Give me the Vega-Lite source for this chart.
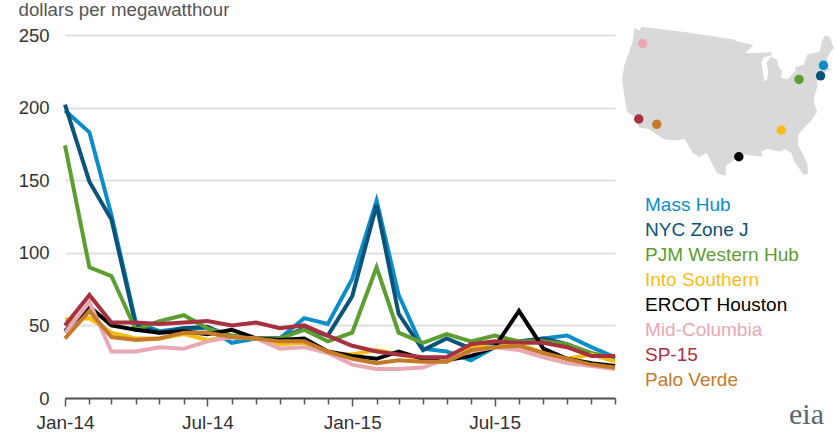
{"$schema":"https://vega.github.io/schema/vega-lite/v6.json","width":550,"height":363,"autosize":"none","padding":{"left":65,"top":35,"right":222,"bottom":41},"background":"white",
"config":{"view":{"stroke":null},"font":"Liberation Sans"},
"title":{"text":"eia","orient":"bottom","anchor":"end","frame":"group","font":"Liberation Serif","fontSize":30,"fontWeight":"normal","color":"#5a6670","dx":209,"dy":-32,"offset":0},
"projection":{"type":"albers","scale":300,"translate":[664,66]},
"layer":[
{"data":{"values":{"type":"Feature","properties":{},"geometry":{"type":"Polygon","coordinates":[[[-124.7,49.75],[-123,49.64],[-122.8,50.43],[-95.2,50.43],[-94.6,50.09],[-92,49.64],[-89.6,49.3],[-92,47.83],[-90,47.72],[-87.5,47.6],[-84.8,47.6],[-84.7,46.93],[-87,46.7],[-87.8,45.8],[-87.6,43.65],[-87.5,42.18],[-86.8,42.29],[-86.2,43.65],[-86.4,45.57],[-85,46.7],[-83.4,45.91],[-83.4,44.67],[-82.5,43.65],[-83.1,42.52],[-81.5,41.96],[-79,43.31],[-79,43.99],[-76.5,44.2],[-75,45.91],[-71.5,45.91],[-70.3,47.6],[-69,48.62],[-67.8,48.17],[-67.5,45.91],[-70,44.44],[-70.8,43.09],[-70,42.18],[-71.5,41.84],[-74,41.05],[-74.2,39.7],[-75.5,38],[-76,36.87],[-75.7,34.95],[-77.5,33.48],[-79,32.69],[-81,31.22],[-81.4,29.53],[-80,25.57],[-80.2,23.65],[-81.2,23.54],[-82.7,26.47],[-83,28.06],[-84.3,28.96],[-85.5,28.62],[-88,29.3],[-89.5,28.96],[-89.3,27.94],[-91,28.17],[-93.8,28.62],[-95,27.83],[-97.2,26.36],[-97.2,24.44],[-99,24.89],[-101.4,28.73],[-103,27.83],[-104.5,28.62],[-106.5,31],[-108.2,30.55],[-111,30.43],[-114.8,31.79],[-117.1,31.79],[-118.5,33.48],[-120.6,34.16],[-122,36.64],[-123.8,39.7],[-124.3,42.52],[-124,47.27],[-124.7,49.75]]]}},"format":{"type":"json"}},
"mark":{"type":"geoshape","fill":"#d9d9d9","stroke":null,"clip":false},"encoding":{}},
{"data":{"values":[
{"series":"Mass Hub","lon":-71.5,"lat":43.2},{"series":"NYC Zone J","lon":-72.9,"lat":41.4},{"series":"PJM Western Hub","lon":-78.5,"lat":41.6},{"series":"Into Southern","lon":-84.6,"lat":32.6},{"series":"ERCOT Houston","lon":-94.4,"lat":28.1},{"series":"Mid-Columbia","lon":-121.2,"lat":47.4},{"series":"SP-15","lon":-117.5,"lat":33.3},{"series":"Palo Verde","lon":-113.2,"lat":33}]},
"mark":{"type":"circle","size":90,"opacity":1,"clip":false},
"encoding":{"longitude":{"field":"lon","type":"quantitative"},"latitude":{"field":"lat","type":"quantitative"},"color":{"field":"series","type":"nominal"}}},
{"data":{"values":[
{"date":"2014-01-01","series":"Mass Hub","value":198},{"date":"2014-02-01","series":"Mass Hub","value":183},{"date":"2014-03-01","series":"Mass Hub","value":126},{"date":"2014-04-01","series":"Mass Hub","value":52},{"date":"2014-05-01","series":"Mass Hub","value":46},{"date":"2014-06-01","series":"Mass Hub","value":48},{"date":"2014-07-01","series":"Mass Hub","value":48},{"date":"2014-08-01","series":"Mass Hub","value":38},{"date":"2014-09-01","series":"Mass Hub","value":41},{"date":"2014-10-01","series":"Mass Hub","value":41},{"date":"2014-11-01","series":"Mass Hub","value":55},{"date":"2014-12-01","series":"Mass Hub","value":51},{"date":"2015-01-01","series":"Mass Hub","value":82},{"date":"2015-02-01","series":"Mass Hub","value":136},{"date":"2015-03-01","series":"Mass Hub","value":71},{"date":"2015-04-01","series":"Mass Hub","value":34},{"date":"2015-05-01","series":"Mass Hub","value":32},{"date":"2015-06-01","series":"Mass Hub","value":26},{"date":"2015-07-01","series":"Mass Hub","value":35},{"date":"2015-08-01","series":"Mass Hub","value":39},{"date":"2015-09-01","series":"Mass Hub","value":41},{"date":"2015-10-01","series":"Mass Hub","value":43},{"date":"2015-11-01","series":"Mass Hub","value":35},{"date":"2015-12-01","series":"Mass Hub","value":28},
{"date":"2014-01-01","series":"NYC Zone J","value":202},{"date":"2014-02-01","series":"NYC Zone J","value":149},{"date":"2014-03-01","series":"NYC Zone J","value":123},{"date":"2014-04-01","series":"NYC Zone J","value":50},{"date":"2014-05-01","series":"NYC Zone J","value":45},{"date":"2014-06-01","series":"NYC Zone J","value":48},{"date":"2014-07-01","series":"NYC Zone J","value":49},{"date":"2014-08-01","series":"NYC Zone J","value":42},{"date":"2014-09-01","series":"NYC Zone J","value":41},{"date":"2014-10-01","series":"NYC Zone J","value":41},{"date":"2014-11-01","series":"NYC Zone J","value":48},{"date":"2014-12-01","series":"NYC Zone J","value":43},{"date":"2015-01-01","series":"NYC Zone J","value":70},{"date":"2015-02-01","series":"NYC Zone J","value":133},{"date":"2015-03-01","series":"NYC Zone J","value":58},{"date":"2015-04-01","series":"NYC Zone J","value":33},{"date":"2015-05-01","series":"NYC Zone J","value":41},{"date":"2015-06-01","series":"NYC Zone J","value":34},{"date":"2015-07-01","series":"NYC Zone J","value":38},{"date":"2015-08-01","series":"NYC Zone J","value":39},{"date":"2015-09-01","series":"NYC Zone J","value":41},{"date":"2015-10-01","series":"NYC Zone J","value":37},{"date":"2015-11-01","series":"NYC Zone J","value":30},{"date":"2015-12-01","series":"NYC Zone J","value":27},
{"date":"2014-01-01","series":"PJM Western Hub","value":174},{"date":"2014-02-01","series":"PJM Western Hub","value":90},{"date":"2014-03-01","series":"PJM Western Hub","value":84},{"date":"2014-04-01","series":"PJM Western Hub","value":47},{"date":"2014-05-01","series":"PJM Western Hub","value":53},{"date":"2014-06-01","series":"PJM Western Hub","value":57},{"date":"2014-07-01","series":"PJM Western Hub","value":48},{"date":"2014-08-01","series":"PJM Western Hub","value":43},{"date":"2014-09-01","series":"PJM Western Hub","value":41},{"date":"2014-10-01","series":"PJM Western Hub","value":41},{"date":"2014-11-01","series":"PJM Western Hub","value":47},{"date":"2014-12-01","series":"PJM Western Hub","value":39},{"date":"2015-01-01","series":"PJM Western Hub","value":45},{"date":"2015-02-01","series":"PJM Western Hub","value":90},{"date":"2015-03-01","series":"PJM Western Hub","value":45},{"date":"2015-04-01","series":"PJM Western Hub","value":38},{"date":"2015-05-01","series":"PJM Western Hub","value":44},{"date":"2015-06-01","series":"PJM Western Hub","value":39},{"date":"2015-07-01","series":"PJM Western Hub","value":43},{"date":"2015-08-01","series":"PJM Western Hub","value":39},{"date":"2015-09-01","series":"PJM Western Hub","value":39},{"date":"2015-10-01","series":"PJM Western Hub","value":37},{"date":"2015-11-01","series":"PJM Western Hub","value":31},{"date":"2015-12-01","series":"PJM Western Hub","value":27},
{"date":"2014-01-01","series":"Into Southern","value":54},{"date":"2014-02-01","series":"Into Southern","value":55},{"date":"2014-03-01","series":"Into Southern","value":45},{"date":"2014-04-01","series":"Into Southern","value":41},{"date":"2014-05-01","series":"Into Southern","value":41},{"date":"2014-06-01","series":"Into Southern","value":44},{"date":"2014-07-01","series":"Into Southern","value":40},{"date":"2014-08-01","series":"Into Southern","value":42},{"date":"2014-09-01","series":"Into Southern","value":41},{"date":"2014-10-01","series":"Into Southern","value":37},{"date":"2014-11-01","series":"Into Southern","value":38},{"date":"2014-12-01","series":"Into Southern","value":31},{"date":"2015-01-01","series":"Into Southern","value":30},{"date":"2015-02-01","series":"Into Southern","value":33},{"date":"2015-03-01","series":"Into Southern","value":30},{"date":"2015-04-01","series":"Into Southern","value":27},{"date":"2015-05-01","series":"Into Southern","value":25},{"date":"2015-06-01","series":"Into Southern","value":36},{"date":"2015-07-01","series":"Into Southern","value":35},{"date":"2015-08-01","series":"Into Southern","value":37},{"date":"2015-09-01","series":"Into Southern","value":31},{"date":"2015-10-01","series":"Into Southern","value":27},{"date":"2015-11-01","series":"Into Southern","value":30},{"date":"2015-12-01","series":"Into Southern","value":25},
{"date":"2014-01-01","series":"ERCOT Houston","value":46},{"date":"2014-02-01","series":"ERCOT Houston","value":63},{"date":"2014-03-01","series":"ERCOT Houston","value":50},{"date":"2014-04-01","series":"ERCOT Houston","value":47},{"date":"2014-05-01","series":"ERCOT Houston","value":45},{"date":"2014-06-01","series":"ERCOT Houston","value":46},{"date":"2014-07-01","series":"ERCOT Houston","value":44},{"date":"2014-08-01","series":"ERCOT Houston","value":47},{"date":"2014-09-01","series":"ERCOT Houston","value":41},{"date":"2014-10-01","series":"ERCOT Houston","value":40},{"date":"2014-11-01","series":"ERCOT Houston","value":41},{"date":"2014-12-01","series":"ERCOT Houston","value":32},{"date":"2015-01-01","series":"ERCOT Houston","value":29},{"date":"2015-02-01","series":"ERCOT Houston","value":27},{"date":"2015-03-01","series":"ERCOT Houston","value":32},{"date":"2015-04-01","series":"ERCOT Houston","value":27},{"date":"2015-05-01","series":"ERCOT Houston","value":26},{"date":"2015-06-01","series":"ERCOT Houston","value":29},{"date":"2015-07-01","series":"ERCOT Houston","value":35},{"date":"2015-08-01","series":"ERCOT Houston","value":60},{"date":"2015-09-01","series":"ERCOT Houston","value":34},{"date":"2015-10-01","series":"ERCOT Houston","value":27},{"date":"2015-11-01","series":"ERCOT Houston","value":24},{"date":"2015-12-01","series":"ERCOT Houston","value":22},
{"date":"2014-01-01","series":"Mid-Columbia","value":45},{"date":"2014-02-01","series":"Mid-Columbia","value":66},{"date":"2014-03-01","series":"Mid-Columbia","value":32},{"date":"2014-04-01","series":"Mid-Columbia","value":32},{"date":"2014-05-01","series":"Mid-Columbia","value":35},{"date":"2014-06-01","series":"Mid-Columbia","value":34},{"date":"2014-07-01","series":"Mid-Columbia","value":39},{"date":"2014-08-01","series":"Mid-Columbia","value":42},{"date":"2014-09-01","series":"Mid-Columbia","value":41},{"date":"2014-10-01","series":"Mid-Columbia","value":34},{"date":"2014-11-01","series":"Mid-Columbia","value":35},{"date":"2014-12-01","series":"Mid-Columbia","value":31},{"date":"2015-01-01","series":"Mid-Columbia","value":23},{"date":"2015-02-01","series":"Mid-Columbia","value":20},{"date":"2015-03-01","series":"Mid-Columbia","value":20},{"date":"2015-04-01","series":"Mid-Columbia","value":21},{"date":"2015-05-01","series":"Mid-Columbia","value":27},{"date":"2015-06-01","series":"Mid-Columbia","value":32},{"date":"2015-07-01","series":"Mid-Columbia","value":35},{"date":"2015-08-01","series":"Mid-Columbia","value":33},{"date":"2015-09-01","series":"Mid-Columbia","value":28},{"date":"2015-10-01","series":"Mid-Columbia","value":24},{"date":"2015-11-01","series":"Mid-Columbia","value":22},{"date":"2015-12-01","series":"Mid-Columbia","value":20},
{"date":"2014-01-01","series":"SP-15","value":50},{"date":"2014-02-01","series":"SP-15","value":71},{"date":"2014-03-01","series":"SP-15","value":52},{"date":"2014-04-01","series":"SP-15","value":52},{"date":"2014-05-01","series":"SP-15","value":51},{"date":"2014-06-01","series":"SP-15","value":52},{"date":"2014-07-01","series":"SP-15","value":53},{"date":"2014-08-01","series":"SP-15","value":50},{"date":"2014-09-01","series":"SP-15","value":52},{"date":"2014-10-01","series":"SP-15","value":48},{"date":"2014-11-01","series":"SP-15","value":50},{"date":"2014-12-01","series":"SP-15","value":43},{"date":"2015-01-01","series":"SP-15","value":36},{"date":"2015-02-01","series":"SP-15","value":32},{"date":"2015-03-01","series":"SP-15","value":30},{"date":"2015-04-01","series":"SP-15","value":28},{"date":"2015-05-01","series":"SP-15","value":28},{"date":"2015-06-01","series":"SP-15","value":37},{"date":"2015-07-01","series":"SP-15","value":39},{"date":"2015-08-01","series":"SP-15","value":38},{"date":"2015-09-01","series":"SP-15","value":38},{"date":"2015-10-01","series":"SP-15","value":35},{"date":"2015-11-01","series":"SP-15","value":29},{"date":"2015-12-01","series":"SP-15","value":29},
{"date":"2014-01-01","series":"Palo Verde","value":41},{"date":"2014-02-01","series":"Palo Verde","value":60},{"date":"2014-03-01","series":"Palo Verde","value":42},{"date":"2014-04-01","series":"Palo Verde","value":40},{"date":"2014-05-01","series":"Palo Verde","value":41},{"date":"2014-06-01","series":"Palo Verde","value":45},{"date":"2014-07-01","series":"Palo Verde","value":45},{"date":"2014-08-01","series":"Palo Verde","value":42},{"date":"2014-09-01","series":"Palo Verde","value":41},{"date":"2014-10-01","series":"Palo Verde","value":39},{"date":"2014-11-01","series":"Palo Verde","value":39},{"date":"2014-12-01","series":"Palo Verde","value":32},{"date":"2015-01-01","series":"Palo Verde","value":27},{"date":"2015-02-01","series":"Palo Verde","value":24},{"date":"2015-03-01","series":"Palo Verde","value":26},{"date":"2015-04-01","series":"Palo Verde","value":25},{"date":"2015-05-01","series":"Palo Verde","value":25},{"date":"2015-06-01","series":"Palo Verde","value":33},{"date":"2015-07-01","series":"Palo Verde","value":35},{"date":"2015-08-01","series":"Palo Verde","value":36},{"date":"2015-09-01","series":"Palo Verde","value":31},{"date":"2015-10-01","series":"Palo Verde","value":27},{"date":"2015-11-01","series":"Palo Verde","value":23},{"date":"2015-12-01","series":"Palo Verde","value":21}
]},
"mark":{"type":"line","strokeWidth":4,"interpolate":"linear","strokeJoin":"miter","clip":false},
"encoding":{
"x":{"field":"date","type":"temporal","scale":{"type":"utc","nice":false},"axis":{"title":null,"tickCount":{"interval":"month","step":1},"labelExpr":"utcmonth(datum.value)%6==0?utcFormat(datum.value,'%b-%y'):''","labelOverlap":false,"labelFontSize":19,"labelColor":"#333333","labelPadding":7,"labelFlush":false,"domainColor":"#555555","domainWidth":2,"tickColor":"#555555","tickWidth":1.5,"tickSize":{"condition":{"test":"utcmonth(datum.value)%6==0","value":8},"value":6},"grid":false}},
"y":{"field":"value","type":"quantitative","scale":{"domain":[0,250],"nice":false},"axis":{"title":"dollars per megawatthour","titleAngle":0,"titleAlign":"left","titleBaseline":"alphabetic","titleX":-47,"titleY":-20,"titleFontSize":18.7,"titleFontWeight":"normal","titleColor":"#555555","values":[0,50,100,150,200,250],"labelFontSize":18.5,"labelColor":"#333333","labelPadding":16,"domain":false,"ticks":false,"grid":true,"gridColor":"#e0e0e0","gridWidth":2}},
"color":{"field":"series","type":"nominal","sort":null,"scale":{"domain":["Mass Hub","NYC Zone J","PJM Western Hub","Into Southern","ERCOT Houston","Mid-Columbia","SP-15","Palo Verde"],"range":["#0b8ec8","#0b5379","#5c9e31","#f6bd16","#000000","#e8a8b4","#a8313f","#c57a29"]},
"legend":{"title":null,"orient":"none","legendX":561,"legendY":160,"symbolSize":0,"symbolOpacity":0,"symbolStrokeWidth":0,"labelFontSize":19,"labelOffset":0,"rowPadding":5,"labelColor":{"expr":"scale('color',datum.value)"}}}
}}
]}
